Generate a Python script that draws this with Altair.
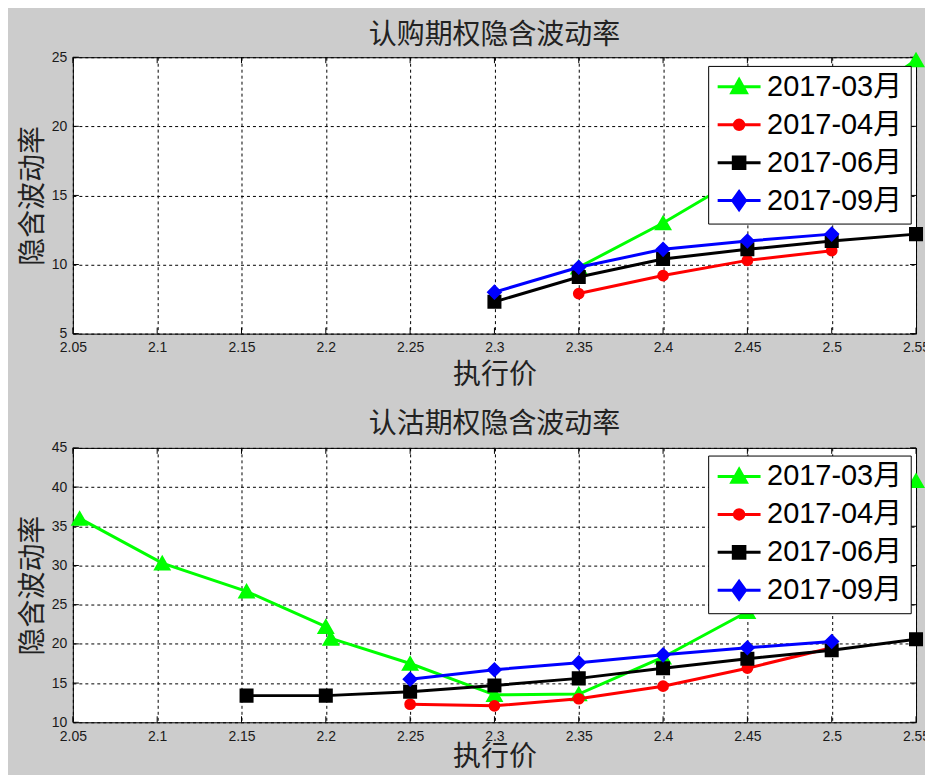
import altair as alt
import pandas as pd

# ---------------- data ----------------
series_names = ["2017-03月", "2017-04月", "2017-06月", "2017-09月"]
series_colors = ["#00ff00", "#ff0000", "#000000", "#0000ff"]
marker_shapes = ["triangle-up", "circle", "square", "diamond"]
marker_sizes = [210, 95, 145, 165]
legend_paths = [
    "M-1,0H1M0,-0.34L0.34,0.27L-0.34,0.27Z",
    "M-1,0H1M-0.22,0A0.22,0.22,0,1,0,0.22,0A0.22,0.22,0,1,0,-0.22,0Z",
    "M-1,0H1M-0.27,-0.27H0.27V0.27H-0.27Z",
    "M-1,0H1M0,-0.42L0.3,0L0,0.42L-0.3,0Z",
]

x_ticks = [2.05, 2.1, 2.15, 2.2, 2.25, 2.3, 2.35, 2.4, 2.45, 2.5, 2.55]
call_y_ticks = [5, 10, 15, 20, 25]
put_y_ticks = [10, 15, 20, 25, 30, 35, 40, 45]

# 认购 (call)
call_03_strike = [2.35, 2.40, 2.45, 2.50, 2.55]
call_03_iv = [9.8, 13.0, 16.6, 20.6, 24.8]
call_04_strike = [2.35, 2.40, 2.45, 2.50]
call_04_iv = [7.9, 9.2, 10.3, 11.0]
call_06_strike = [2.30, 2.35, 2.40, 2.45, 2.50, 2.55]
call_06_iv = [7.3, 9.1, 10.4, 11.1, 11.7, 12.2]
call_09_strike = [2.30, 2.35, 2.40, 2.45, 2.50]
call_09_iv = [8.0, 9.8, 11.1, 11.7, 12.2]

# 认沽 (put)
put_03_strike = [2.054, 2.103, 2.153, 2.200, 2.203, 2.25, 2.30, 2.35, 2.40, 2.45, 2.50, 2.55]
put_03_iv = [36.0, 30.3, 26.7, 22.2, 20.7, 17.5, 13.5, 13.6, 18.3, 24.1, 32.0, 40.8]
put_04_strike = [2.25, 2.30, 2.35, 2.40, 2.45, 2.50]
put_04_iv = [12.3, 12.1, 13.0, 14.6, 16.9, 19.5]
put_06_strike = [2.153, 2.20, 2.25, 2.30, 2.35, 2.40, 2.45, 2.50, 2.55]
put_06_iv = [13.4, 13.4, 13.9, 14.7, 15.6, 16.9, 18.1, 19.2, 20.6]
put_09_strike = [2.25, 2.30, 2.35, 2.40, 2.45, 2.50]
put_09_iv = [15.5, 16.7, 17.6, 18.6, 19.5, 20.3]


def make_df(strikes, ivs):
    rows = []
    for name, xs, ys in zip(series_names, strikes, ivs):
        for i, (a, b) in enumerate(zip(xs, ys)):
            rows.append({"series": name, "strike": a, "iv": b, "idx": i})
    return pd.DataFrame(rows)


call_df = make_df([call_03_strike, call_04_strike, call_06_strike, call_09_strike],
                  [call_03_iv, call_04_iv, call_06_iv, call_09_iv])
put_df = make_df([put_03_strike, put_04_strike, put_06_strike, put_09_strike],
                 [put_03_iv, put_04_iv, put_06_iv, put_09_iv])

CJK = "Noto Sans CJK SC"
LAT = "Liberation Sans, Noto Sans CJK SC, sans-serif"
PLOT_W = 845
TICK_LEN = 6


def panel(df, title, y_ticks, legend_y, height, x_title_pad, title_offset):
    x = alt.X("strike:Q",
              scale=alt.Scale(domain=[x_ticks[0], x_ticks[-1]], nice=False, zero=False),
              axis=alt.Axis(values=x_ticks, format=".2~f", title="执行价",
                            labelFlush=False, labelPadding=7, titlePadding=x_title_pad))
    y = alt.Y("iv:Q",
              scale=alt.Scale(domain=[y_ticks[0], y_ticks[-1]], nice=False, zero=False),
              axis=alt.Axis(values=y_ticks, title="隐含波动率", labelFlush=False,
                            labelPadding=6, titlePadding=4))
    layers = []
    # inward tick marks on all four sides (MATLAB style box)
    xt = alt.Chart(pd.DataFrame({"strike": x_ticks}))
    yt = alt.Chart(pd.DataFrame({"iv": y_ticks}))
    layers.append(xt.mark_rule(color="black", strokeWidth=1).encode(
        x=x, y=alt.value(0), y2=alt.value(TICK_LEN)))
    layers.append(xt.mark_rule(color="black", strokeWidth=1).encode(
        x=x, y=alt.value(height - TICK_LEN), y2=alt.value(height)))
    layers.append(yt.mark_rule(color="black", strokeWidth=1).encode(
        y=y, x=alt.value(0), x2=alt.value(TICK_LEN)))
    layers.append(yt.mark_rule(color="black", strokeWidth=1).encode(
        y=y, x=alt.value(PLOT_W - TICK_LEN), x2=alt.value(PLOT_W)))
    for name, c, shp, sz in zip(series_names, series_colors, marker_shapes, marker_sizes):
        base = alt.Chart(df).transform_filter(alt.datum.series == name)
        layers.append(base.mark_line(color=c, strokeWidth=3).encode(x=x, y=y, order="idx:Q"))
        layers.append(base.mark_point(shape=shp, filled=True, color=c, stroke=c,
                                      strokeWidth=2, size=sz, opacity=1).encode(x=x, y=y))
    leg = alt.Legend(title=None, orient="none", legendX=636.7, legendY=legend_y,
                     direction="vertical", fillColor="white", strokeColor="black",
                     padding=8, cornerRadius=0, labelFont=LAT, labelFontSize=29,
                     labelColor="black", labelOffset=5, symbolSize=1849,
                     symbolStrokeWidth=3, clipHeight=26, rowPadding=9, labelLimit=400)
    legend_layer = alt.Chart(df).transform_filter("datum.iv < -1000").mark_point(
        filled=True, opacity=1, size=1849, strokeWidth=3).encode(
        x=x, y=y,
        fill=alt.Fill("series:N", scale=alt.Scale(domain=series_names, range=series_colors), legend=leg),
        stroke=alt.Stroke("series:N", scale=alt.Scale(domain=series_names, range=series_colors), legend=leg),
        shape=alt.Shape("series:N", scale=alt.Scale(domain=series_names, range=legend_paths), legend=leg),
    )
    return alt.layer(*layers, legend_layer).properties(
        width=PLOT_W, height=height,
        title=alt.TitleParams(title, anchor="middle", offset=title_offset),
    )


top = panel(call_df, "认购期权隐含波动率", call_y_ticks, 8.7, 277, 7, 0)
bottom = panel(put_df, "认沽期权隐含波动率", put_y_ticks, 7.7, 275, 0, 2)

chart = alt.vconcat(top, bottom, spacing=19.5).resolve_scale(
    fill="independent", stroke="independent", shape="independent"
).configure(
    background="#cccccc",
    padding={"left": 10, "top": 11.5, "right": -6, "bottom": 2},
).configure_view(
    stroke="black", strokeWidth=1, fill="white"
).configure_axis(
    grid=True, gridColor="black", gridDash=[3, 3], gridOpacity=1, gridWidth=1,
    domain=False, ticks=False, tickSize=0,
    labelFont=LAT, labelFontSize=14, labelColor="#1a1a1a",
    titleFont=CJK, titleFontSize=28, titleFontWeight="normal", titleColor="#222222",
).configure_title(
    font=CJK, fontSize=28, fontWeight="normal", color="#222222"
)

chart.save("out.html", embed_options={"renderer": "svg", "actions": False})
